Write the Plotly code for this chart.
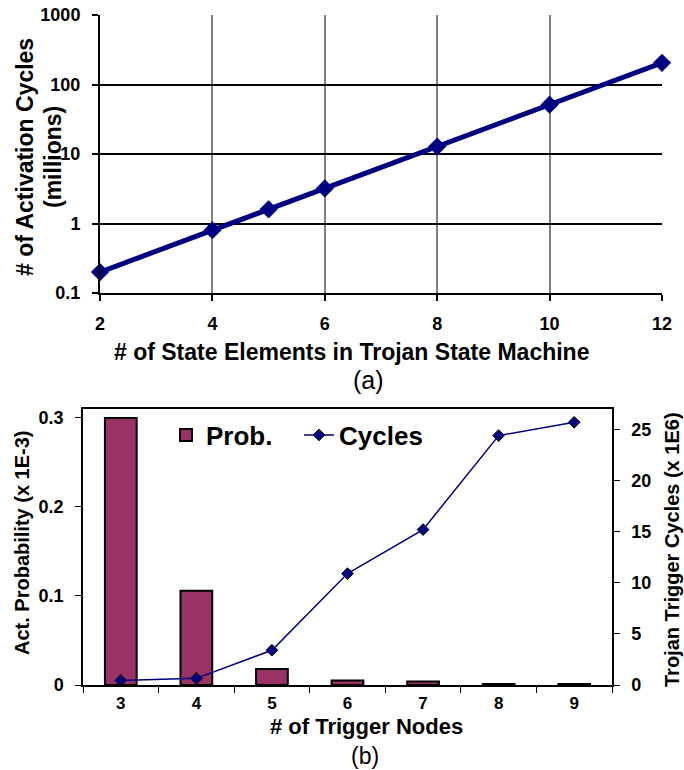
import plotly.graph_objects as go

# ---- data (a) ----
state_elements = [2, 4, 5, 6, 8, 10, 12]
activation_cycles = [0.2, 0.8, 1.6, 3.2, 12.8, 51.2, 204.8]
a_xticks = [2, 4, 6, 8, 10, 12]
a_yticks = [0.1, 1, 10, 100, 1000]
a_yticktext = ["0.1", "1", "10", "100", "1000"]

# ---- data (b) ----
trigger_nodes = [3, 4, 5, 6, 7, 8, 9]
act_prob = [0.300, 0.106, 0.018, 0.005, 0.004, 0.001, 0.001]
trigger_cycles = [0.45, 0.65, 3.4, 10.9, 15.2, 24.4, 25.7]
b_left_ticks = [0, 0.1, 0.2, 0.3]
b_left_text = ["0", "0.1", "0.2", "0.3"]
b_right_ticks = [0, 5, 10, 15, 20, 25]
b_boundaries = [2.5, 3.5, 4.5, 5.5, 6.5, 7.5, 8.5, 9.5]

FONT = "Arial, Liberation Sans, sans-serif"
W, H = 684, 770
NAVY = "#000080"
PLUM = "#993366"


def px_x(p):
    return p / W


def px_y(p):
    return 1 - p / H


fig = go.Figure()

fig.add_trace(go.Scatter(
    x=state_elements, y=activation_cycles, xaxis="x", yaxis="y",
    mode="lines+markers", line=dict(color=NAVY, width=5),
    marker=dict(symbol="diamond", size=14, color=NAVY),
    showlegend=False, cliponaxis=False))

fig.add_trace(go.Bar(
    x=trigger_nodes, y=act_prob, xaxis="x2", yaxis="y2", name="Prob.",
    width=0.42, marker=dict(color=PLUM, line=dict(color="black", width=2))))

fig.add_trace(go.Scatter(
    x=trigger_nodes, y=trigger_cycles, xaxis="x2", yaxis="y3", name="Cycles",
    mode="lines+markers", line=dict(color=NAVY, width=1.5),
    marker=dict(symbol="diamond", size=9, color=NAVY, line=dict(color="black", width=1)),
    cliponaxis=False))

tickfont = dict(family=FONT, size=18, color="black", weight="bold")
tickfont_b = dict(family=FONT, size=17, color="black", weight="bold")

fig.update_layout(
    width=W, height=H, margin=dict(l=0, r=0, t=0, b=0),
    paper_bgcolor="white", plot_bgcolor="white",
    font=dict(family=FONT, color="black"),
    xaxis=dict(domain=[px_x(100), px_x(662)], anchor="y", range=[2, 12],
               tickvals=a_xticks, showgrid=True, gridcolor="#808080", gridwidth=1.5,
               zeroline=False, showline=True, linecolor="black", linewidth=2,
               ticks="outside", ticklen=6, tickcolor="black", tickwidth=1.5,
               ticklabelstandoff=7, tickfont=tickfont, automargin=False,
               ticklabeloverflow="allow"),
    yaxis=dict(domain=[px_y(293), px_y(15)], anchor="x", type="log", range=[-1, 3],
               tickvals=a_yticks, ticktext=a_yticktext, showgrid=True,
               gridcolor="black", gridwidth=2, zeroline=False, showline=True,
               linecolor="black", linewidth=2, ticks="outside", ticklen=6,
               tickcolor="black", tickwidth=1.5, ticklabelstandoff=8,
               tickfont=tickfont, automargin=False, ticklabeloverflow="allow"),
    xaxis2=dict(domain=[px_x(83), px_x(612)], anchor="y2", range=[2.5, 9.5],
                tickvals=trigger_nodes, ticks="", showgrid=False, zeroline=False,
                showline=True, mirror=True, linecolor="black", linewidth=1.5,
                minor=dict(tickvals=b_boundaries, ticks="outside", ticklen=6,
                           tickcolor="black", tickwidth=1),
                ticklabelstandoff=2, tickfont=tickfont_b, automargin=False,
                ticklabeloverflow="allow"),
    yaxis2=dict(domain=[px_y(685), px_y(409)], anchor="x2", range=[0, 0.31],
                tickvals=b_left_ticks, ticktext=b_left_text, showgrid=False,
                zeroline=False, showline=True, linecolor="black", linewidth=1.5,
                ticks="outside", ticklen=6, tickcolor="black", tickwidth=1,
                ticklabelstandoff=8, tickfont=tickfont, automargin=False,
                ticklabeloverflow="allow"),
    yaxis3=dict(overlaying="y2", side="right", anchor="x2", range=[0, 27],
                tickvals=b_right_ticks, showgrid=False, zeroline=False,
                showline=True, linecolor="black", linewidth=1.5,
                ticks="outside", ticklen=6, tickcolor="black", tickwidth=1,
                ticklabelstandoff=8, tickfont=tickfont, automargin=False,
                ticklabeloverflow="allow"),
    legend=dict(orientation="h", x=px_x(166), y=px_y(435), xanchor="left",
                yanchor="middle", bgcolor="rgba(0,0,0,0)", entrywidth=88,
                font=dict(family=FONT, size=26, color="black", weight="bold")),
)

ann = [
    dict(text="# of Activation Cycles", x=px_x(25), y=px_y(157),
         textangle=-90, font=dict(family=FONT, size=23, color="black", weight="bold")),
    dict(text="(millions)", x=px_x(53), y=px_y(157),
         textangle=-90, font=dict(family=FONT, size=23, color="black", weight="bold")),
    dict(text="# of State Elements in Trojan State Machine", x=px_x(351), y=px_y(352),
         font=dict(family=FONT, size=23, color="black", weight="bold")),
    dict(text="(a)", x=px_x(368), y=px_y(380),
         font=dict(family=FONT, size=25, color="black")),
    dict(text="Act. Probability (x 1E-3)", x=px_x(22), y=px_y(543),
         textangle=-90, font=dict(family=FONT, size=20, color="black", weight="bold")),
    dict(text="Trojan Trigger Cycles (x 1E6)", x=px_x(672), y=px_y(550),
         textangle=-90, font=dict(family=FONT, size=20, color="black", weight="bold")),
    dict(text="# of Trigger Nodes", x=px_x(366), y=px_y(726),
         font=dict(family=FONT, size=22, color="black", weight="bold")),
    dict(text="(b)", x=px_x(365), y=px_y(756),
         font=dict(family=FONT, size=23, color="black")),
]
for a in ann:
    fig.add_annotation(xref="paper", yref="paper", showarrow=False,
                       xanchor="center", yanchor="middle", **a)

fig.write_html(
    "out.html",
    config={"displayModeBar": False},
    post_script="document.body.style.margin='0px';document.body.style.overflow='hidden';",
)
